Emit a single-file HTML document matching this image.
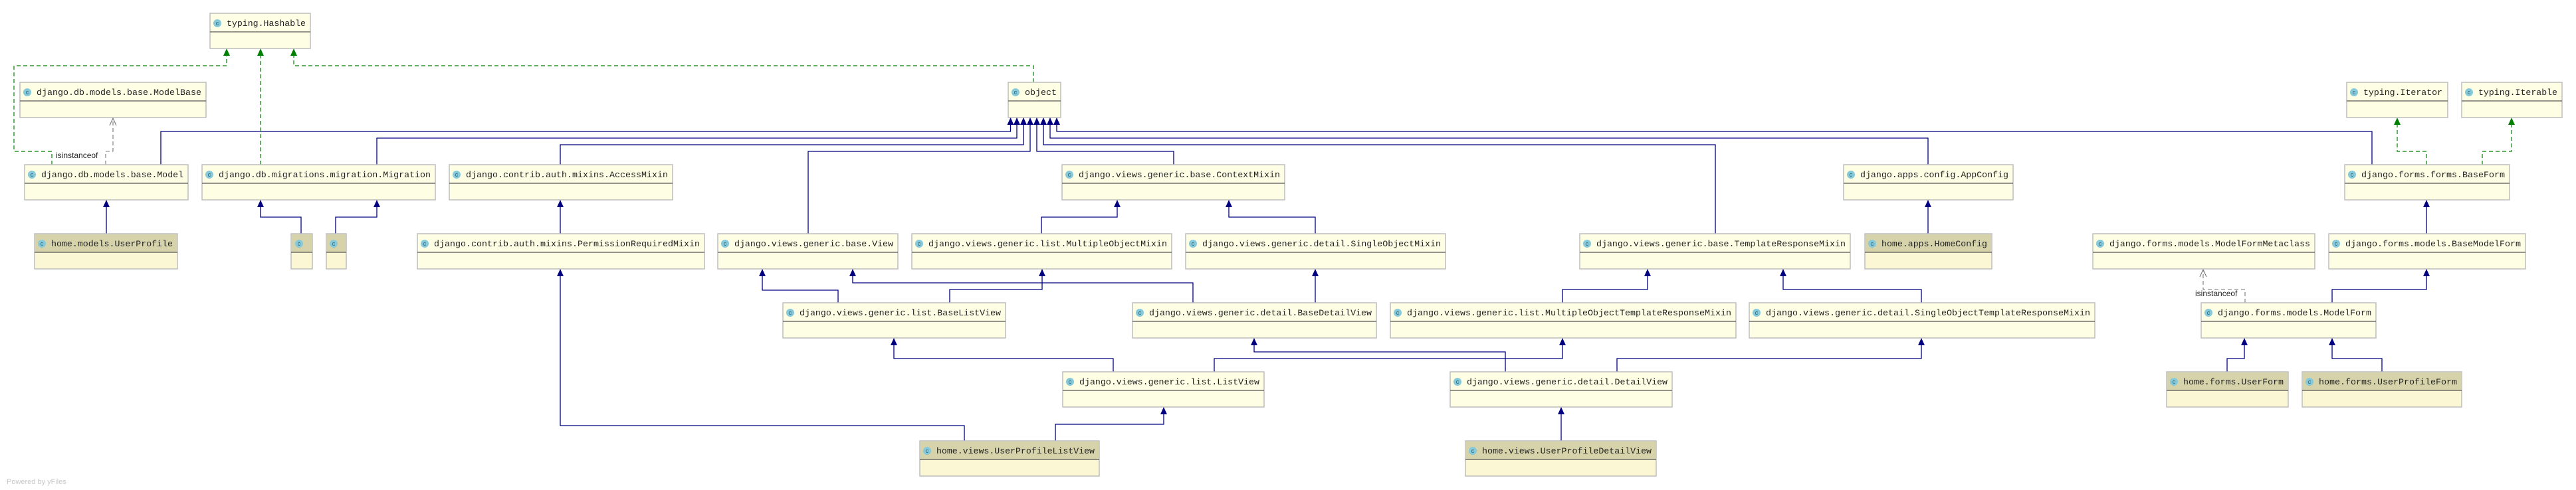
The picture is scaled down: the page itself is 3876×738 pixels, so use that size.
<!DOCTYPE html>
<html><head><meta charset="utf-8"><style>
html,body{margin:0;padding:0;background:#fff;}
svg{display:block;}
.b{fill:#fefee4;stroke:#bdbdbd;stroke-width:1.5;}
.hh{fill:#d6d3aa;}
.hb{fill:#fbf6d3;stroke:#bdbdbd;stroke-width:1.5;}
.sep{stroke:#555;stroke-width:1.2;}
.ic{fill:#86c9da;}
.ict{font:9px "Liberation Sans",sans-serif;fill:#2a5f70;text-anchor:middle;}
.t{font:13px "Liberation Mono",monospace;fill:#222;}
.e{fill:none;stroke:#000080;stroke-width:1.3;}
.ah{fill:#000080;}
.g{fill:none;stroke:#008000;stroke-width:1.2;stroke-dasharray:6,4;}
.gah{fill:#008000;}
.d{fill:none;stroke:#777;stroke-width:1.1;stroke-dasharray:6,4;}
.oa{fill:none;stroke:#777;stroke-width:1.1;}
.lbl{font:12px "Liberation Sans",sans-serif;fill:#222;}
</style></head><body>
<svg width="3876" height="738" viewBox="0 0 3876 738" xmlns="http://www.w3.org/2000/svg">
<!-- edges blue -->
<g class="e">
<polyline points="160,352 160,301"/>
<polyline points="453,352 453,327 392,327 392,301"/>
<polyline points="505,352 505,327 567,327 567,301"/>
<polyline points="242,248 242,198 1520.5,198 1520.5,177"/>
<polyline points="567,248 567,208 1530,208 1530,177"/>
<polyline points="843,248 843,218 1540,218 1540,177"/>
<polyline points="1216,352 1216,228 1550,228 1550,177"/>
<polyline points="1766,248 1766,228 1560,228 1560,177"/>
<polyline points="2581,352 2581,218 1570,218 1570,177"/>
<polyline points="2901,248 2901,208 1580,208 1580,177"/>
<polyline points="3569,248 3569,198 1590,198 1590,177"/>
<polyline points="843,352 843,301"/>
<polyline points="1567,352 1567,327 1681,327 1681,301"/>
<polyline points="1979,352 1979,327 1849,327 1849,301"/>
<polyline points="2901,352 2901,301"/>
<polyline points="3651,352 3651,301"/>
<polyline points="1261,456 1261,437 1147,437 1147,405"/>
<polyline points="1429,456 1429,436 1568,436 1568,405"/>
<polyline points="1795,456 1795,426 1283,426 1283,405"/>
<polyline points="1979,456 1979,405"/>
<polyline points="2351,456 2351,436 2479,436 2479,405"/>
<polyline points="2891,456 2891,436 2683,436 2683,405"/>
<polyline points="3509,456 3509,436 3651,436 3651,405"/>
<polyline points="1675,560 1675,540 1345,540 1345,509"/>
<polyline points="1827,560 1827,540 2351,540 2351,509"/>
<polyline points="2265,560 2265,530 1887,530 1887,509"/>
<polyline points="2433,560 2433,540 2891,540 2891,509"/>
<polyline points="3351,560 3351,540 3377,540 3377,509"/>
<polyline points="3584,560 3584,540 3509,540 3509,509"/>
<polyline points="1588,664 1588,639 1751,639 1751,613"/>
<polyline points="1451,664 1451,641 843,641 843,405"/>
<polyline points="2349,664 2349,613"/>
</g>
<g class="ah">
<polygon points="160,301 155,312 165,312"/>
<polygon points="392,301 387,312 397,312"/>
<polygon points="567,301 562,312 572,312"/>
<polygon points="1520.5,177 1515.5,188 1525.5,188"/>
<polygon points="1530,177 1525,188 1535,188"/>
<polygon points="1540,177 1535,188 1545,188"/>
<polygon points="1550,177 1545,188 1555,188"/>
<polygon points="1560,177 1555,188 1565,188"/>
<polygon points="1570,177 1565,188 1575,188"/>
<polygon points="1580,177 1575,188 1585,188"/>
<polygon points="1590,177 1585,188 1595,188"/>
<polygon points="843,301 838,312 848,312"/>
<polygon points="1681,301 1676,312 1686,312"/>
<polygon points="1849,301 1844,312 1854,312"/>
<polygon points="2901,301 2896,312 2906,312"/>
<polygon points="3651,301 3646,312 3656,312"/>
<polygon points="1147,405 1142,416 1152,416"/>
<polygon points="1568,405 1563,416 1573,416"/>
<polygon points="1283,405 1278,416 1288,416"/>
<polygon points="1979,405 1974,416 1984,416"/>
<polygon points="2479,405 2474,416 2484,416"/>
<polygon points="2683,405 2678,416 2688,416"/>
<polygon points="3651,405 3646,416 3656,416"/>
<polygon points="843,405 838,416 848,416"/>
<polygon points="1345,509 1340,520 1350,520"/>
<polygon points="2351,509 2346,520 2356,520"/>
<polygon points="1887,509 1882,520 1892,520"/>
<polygon points="2891,509 2886,520 2896,520"/>
<polygon points="3377,509 3372,520 3382,520"/>
<polygon points="3509,509 3504,520 3514,520"/>
<polygon points="1751,613 1746,624 1756,624"/>
<polygon points="2349,613 2344,624 2354,624"/>
</g>
<!-- green dashed -->
<g class="g">
<polyline points="78,248 78,228 21,228 21,99 341,99 341,84"/>
<polyline points="392,248 392,84"/>
<polyline points="1555,124 1555,99 442,99 442,84"/>
<polyline points="3651,248 3651,228 3607,228 3607,188"/>
<polyline points="3735,248 3735,228 3779,228 3779,188"/>
</g>
<g class="gah">
<polygon points="341,73 336,84 346,84"/>
<polygon points="392,73 387,84 397,84"/>
<polygon points="442,73 437,84 447,84"/>
<polygon points="3607,177 3602,188 3612,188"/>
<polygon points="3779,177 3774,188 3784,188"/>
</g>
<!-- isinstanceof -->
<polyline class="d" points="159,248 159,228 170,228 170,178"/>
<polyline class="oa" points="165,189 170,178 175,189"/>
<text class="lbl" x="84" y="238">isinstanceof</text>
<polyline class="d" points="3378,456 3378,436 3315,436 3315,406"/>
<polyline class="oa" points="3310,417 3315,406 3320,417"/>
<text class="lbl" x="3303" y="446">isinstanceof</text>

<!-- boxes -->
<g>
<rect class="b" x="316" y="20" width="151" height="53"/><line class="sep" x1="316" y1="48" x2="467" y2="48"/><circle class="ic" cx="327" cy="35" r="6"/><text class="ict" x="327" y="38">c</text><text class="t" x="341" y="39" textLength="119" lengthAdjust="spacingAndGlyphs">typing.Hashable</text>

<rect class="b" x="30" y="124" width="280" height="53"/><line class="sep" x1="30" y1="152" x2="310" y2="152"/><circle class="ic" cx="41" cy="139" r="6"/><text class="ict" x="41" y="142">c</text><text class="t" x="55" y="143" textLength="248" lengthAdjust="spacingAndGlyphs">django.db.models.base.ModelBase</text>

<rect class="b" x="1517" y="124" width="79" height="53"/><line class="sep" x1="1517" y1="152" x2="1596" y2="152"/><circle class="ic" cx="1528" cy="139" r="6"/><text class="ict" x="1528" y="142">c</text><text class="t" x="1542" y="143" textLength="48" lengthAdjust="spacingAndGlyphs">object</text>

<rect class="b" x="3531" y="124" width="152" height="53"/><line class="sep" x1="3531" y1="152" x2="3683" y2="152"/><circle class="ic" cx="3542" cy="139" r="6"/><text class="ict" x="3542" y="142">c</text><text class="t" x="3556" y="143" textLength="119" lengthAdjust="spacingAndGlyphs">typing.Iterator</text>

<rect class="b" x="3704" y="124" width="151" height="53"/><line class="sep" x1="3704" y1="152" x2="3855" y2="152"/><circle class="ic" cx="3715" cy="139" r="6"/><text class="ict" x="3715" y="142">c</text><text class="t" x="3729" y="143" textLength="119" lengthAdjust="spacingAndGlyphs">typing.Iterable</text>

<rect class="b" x="37" y="248" width="246" height="53"/><line class="sep" x1="37" y1="276" x2="283" y2="276"/><circle class="ic" cx="48" cy="263" r="6"/><text class="ict" x="48" y="266">c</text><text class="t" x="62" y="267" textLength="214" lengthAdjust="spacingAndGlyphs">django.db.models.base.Model</text>

<rect class="b" x="304" y="248" width="351" height="53"/><line class="sep" x1="304" y1="276" x2="655" y2="276"/><circle class="ic" cx="315" cy="263" r="6"/><text class="ict" x="315" y="266">c</text><text class="t" x="329" y="267" textLength="319" lengthAdjust="spacingAndGlyphs">django.db.migrations.migration.Migration</text>

<rect class="b" x="676" y="248" width="336" height="53"/><line class="sep" x1="676" y1="276" x2="1012" y2="276"/><circle class="ic" cx="687" cy="263" r="6"/><text class="ict" x="687" y="266">c</text><text class="t" x="701" y="267" textLength="304" lengthAdjust="spacingAndGlyphs">django.contrib.auth.mixins.AccessMixin</text>

<rect class="b" x="1598" y="248" width="335" height="53"/><line class="sep" x1="1598" y1="276" x2="1933" y2="276"/><circle class="ic" cx="1609" cy="263" r="6"/><text class="ict" x="1609" y="266">c</text><text class="t" x="1623" y="267" textLength="303" lengthAdjust="spacingAndGlyphs">django.views.generic.base.ContextMixin</text>

<rect class="b" x="2774" y="248" width="255" height="53"/><line class="sep" x1="2774" y1="276" x2="3029" y2="276"/><circle class="ic" cx="2785" cy="263" r="6"/><text class="ict" x="2785" y="266">c</text><text class="t" x="2799" y="267" textLength="223" lengthAdjust="spacingAndGlyphs">django.apps.config.AppConfig</text>

<rect class="b" x="3528" y="248" width="248" height="53"/><line class="sep" x1="3528" y1="276" x2="3776" y2="276"/><circle class="ic" cx="3539" cy="263" r="6"/><text class="ict" x="3539" y="266">c</text><text class="t" x="3553" y="267" textLength="216" lengthAdjust="spacingAndGlyphs">django.forms.forms.BaseForm</text>

<!-- row 4 -->
<rect class="hb" x="52" y="352" width="215" height="53"/><rect class="hh" x="53" y="353" width="213" height="27"/><line class="sep" x1="52" y1="380" x2="267" y2="380"/><circle class="ic" cx="63" cy="367" r="6"/><text class="ict" x="63" y="370">c</text><text class="t" x="77" y="371" textLength="183" lengthAdjust="spacingAndGlyphs">home.models.UserProfile</text>

<rect class="hb" x="438" y="352" width="32" height="53"/><rect class="hh" x="439" y="353" width="30" height="27"/><line class="sep" x1="438" y1="380" x2="470" y2="380"/><circle class="ic" cx="450" cy="367" r="6"/><text class="ict" x="450" y="370">c</text>

<rect class="hb" x="491" y="352" width="30" height="53"/><rect class="hh" x="492" y="353" width="28" height="27"/><line class="sep" x1="491" y1="380" x2="521" y2="380"/><circle class="ic" cx="502" cy="367" r="6"/><text class="ict" x="502" y="370">c</text>

<rect class="b" x="628" y="352" width="432" height="53"/><line class="sep" x1="628" y1="380" x2="1060" y2="380"/><circle class="ic" cx="639" cy="367" r="6"/><text class="ict" x="639" y="370">c</text><text class="t" x="653" y="371" textLength="400" lengthAdjust="spacingAndGlyphs">django.contrib.auth.mixins.PermissionRequiredMixin</text>

<rect class="b" x="1080" y="352" width="271" height="53"/><line class="sep" x1="1080" y1="380" x2="1351" y2="380"/><circle class="ic" cx="1091" cy="367" r="6"/><text class="ict" x="1091" y="370">c</text><text class="t" x="1105" y="371" textLength="239" lengthAdjust="spacingAndGlyphs">django.views.generic.base.View</text>

<rect class="b" x="1372" y="352" width="391" height="53"/><line class="sep" x1="1372" y1="380" x2="1763" y2="380"/><circle class="ic" cx="1383" cy="367" r="6"/><text class="ict" x="1383" y="370">c</text><text class="t" x="1397" y="371" textLength="359" lengthAdjust="spacingAndGlyphs">django.views.generic.list.MultipleObjectMixin</text>

<rect class="b" x="1784" y="352" width="391" height="53"/><line class="sep" x1="1784" y1="380" x2="2175" y2="380"/><circle class="ic" cx="1795" cy="367" r="6"/><text class="ict" x="1795" y="370">c</text><text class="t" x="1809" y="371" textLength="359" lengthAdjust="spacingAndGlyphs">django.views.generic.detail.SingleObjectMixin</text>

<rect class="b" x="2377" y="352" width="407" height="53"/><line class="sep" x1="2377" y1="380" x2="2784" y2="380"/><circle class="ic" cx="2388" cy="367" r="6"/><text class="ict" x="2388" y="370">c</text><text class="t" x="2402" y="371" textLength="375" lengthAdjust="spacingAndGlyphs">django.views.generic.base.TemplateResponseMixin</text>

<rect class="hb" x="2806" y="352" width="191" height="53"/><rect class="hh" x="2807" y="353" width="189" height="27"/><line class="sep" x1="2806" y1="380" x2="2997" y2="380"/><circle class="ic" cx="2817" cy="367" r="6"/><text class="ict" x="2817" y="370">c</text><text class="t" x="2831" y="371" textLength="159" lengthAdjust="spacingAndGlyphs">home.apps.HomeConfig</text>

<rect class="b" x="3149" y="352" width="334" height="53"/><line class="sep" x1="3149" y1="380" x2="3483" y2="380"/><circle class="ic" cx="3160" cy="367" r="6"/><text class="ict" x="3160" y="370">c</text><text class="t" x="3174" y="371" textLength="302" lengthAdjust="spacingAndGlyphs">django.forms.models.ModelFormMetaclass</text>

<rect class="b" x="3504" y="352" width="296" height="53"/><line class="sep" x1="3504" y1="380" x2="3800" y2="380"/><circle class="ic" cx="3515" cy="367" r="6"/><text class="ict" x="3515" y="370">c</text><text class="t" x="3529" y="371" textLength="264" lengthAdjust="spacingAndGlyphs">django.forms.models.BaseModelForm</text>

<!-- row 5 -->
<rect class="b" x="1178" y="456" width="335" height="53"/><line class="sep" x1="1178" y1="484" x2="1513" y2="484"/><circle class="ic" cx="1189" cy="471" r="6"/><text class="ict" x="1189" y="474">c</text><text class="t" x="1203" y="475" textLength="303" lengthAdjust="spacingAndGlyphs">django.views.generic.list.BaseListView</text>

<rect class="b" x="1704" y="456" width="367" height="53"/><line class="sep" x1="1704" y1="484" x2="2071" y2="484"/><circle class="ic" cx="1715" cy="471" r="6"/><text class="ict" x="1715" y="474">c</text><text class="t" x="1729" y="475" textLength="335" lengthAdjust="spacingAndGlyphs">django.views.generic.detail.BaseDetailView</text>

<rect class="b" x="2092" y="456" width="520" height="53"/><line class="sep" x1="2092" y1="484" x2="2612" y2="484"/><circle class="ic" cx="2103" cy="471" r="6"/><text class="ict" x="2103" y="474">c</text><text class="t" x="2117" y="475" textLength="488" lengthAdjust="spacingAndGlyphs">django.views.generic.list.MultipleObjectTemplateResponseMixin</text>

<rect class="b" x="2632" y="456" width="520" height="53"/><line class="sep" x1="2632" y1="484" x2="3152" y2="484"/><circle class="ic" cx="2643" cy="471" r="6"/><text class="ict" x="2643" y="474">c</text><text class="t" x="2657" y="475" textLength="488" lengthAdjust="spacingAndGlyphs">django.views.generic.detail.SingleObjectTemplateResponseMixin</text>

<rect class="b" x="3312" y="456" width="263" height="53"/><line class="sep" x1="3312" y1="484" x2="3575" y2="484"/><circle class="ic" cx="3323" cy="471" r="6"/><text class="ict" x="3323" y="474">c</text><text class="t" x="3337" y="475" textLength="231" lengthAdjust="spacingAndGlyphs">django.forms.models.ModelForm</text>

<!-- row 6 -->
<rect class="b" x="1599" y="560" width="303" height="53"/><line class="sep" x1="1599" y1="588" x2="1902" y2="588"/><circle class="ic" cx="1610" cy="575" r="6"/><text class="ict" x="1610" y="578">c</text><text class="t" x="1624" y="579" textLength="271" lengthAdjust="spacingAndGlyphs">django.views.generic.list.ListView</text>

<rect class="b" x="2182" y="560" width="334" height="53"/><line class="sep" x1="2182" y1="588" x2="2516" y2="588"/><circle class="ic" cx="2193" cy="575" r="6"/><text class="ict" x="2193" y="578">c</text><text class="t" x="2207" y="579" textLength="302" lengthAdjust="spacingAndGlyphs">django.views.generic.detail.DetailView</text>

<rect class="hb" x="3260" y="560" width="183" height="53"/><rect class="hh" x="3261" y="561" width="181" height="27"/><line class="sep" x1="3260" y1="588" x2="3443" y2="588"/><circle class="ic" cx="3271" cy="575" r="6"/><text class="ict" x="3271" y="578">c</text><text class="t" x="3285" y="579" textLength="151" lengthAdjust="spacingAndGlyphs">home.forms.UserForm</text>

<rect class="hb" x="3464" y="560" width="240" height="53"/><rect class="hh" x="3465" y="561" width="238" height="27"/><line class="sep" x1="3464" y1="588" x2="3704" y2="588"/><circle class="ic" cx="3475" cy="575" r="6"/><text class="ict" x="3475" y="578">c</text><text class="t" x="3489" y="579" textLength="208" lengthAdjust="spacingAndGlyphs">home.forms.UserProfileForm</text>

<!-- row 7 -->
<rect class="hb" x="1384" y="664" width="270" height="53"/><rect class="hh" x="1385" y="665" width="268" height="27"/><line class="sep" x1="1384" y1="692" x2="1654" y2="692"/><circle class="ic" cx="1395" cy="679" r="6"/><text class="ict" x="1395" y="682">c</text><text class="t" x="1409" y="683" textLength="238" lengthAdjust="spacingAndGlyphs">home.views.UserProfileListView</text>

<rect class="hb" x="2205" y="664" width="287" height="53"/><rect class="hh" x="2206" y="665" width="285" height="27"/><line class="sep" x1="2205" y1="692" x2="2492" y2="692"/><circle class="ic" cx="2216" cy="679" r="6"/><text class="ict" x="2216" y="682">c</text><text class="t" x="2230" y="683" textLength="255" lengthAdjust="spacingAndGlyphs">home.views.UserProfileDetailView</text>
</g>
<text x="10" y="729" style="font:11px 'Liberation Sans',sans-serif;fill:#c8c8c8;">Powered by yFiles</text>
</svg>
</body></html>
